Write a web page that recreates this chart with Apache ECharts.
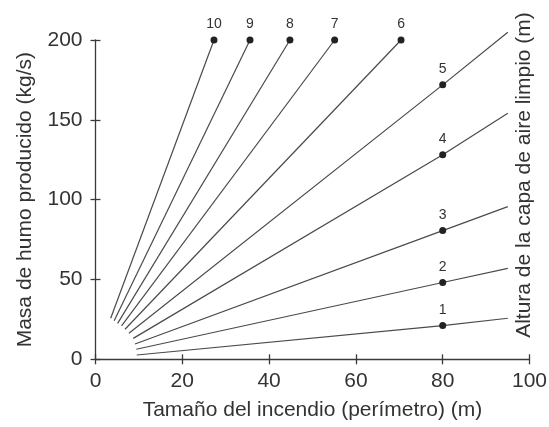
<!DOCTYPE html>
<html>
<head>
<meta charset="utf-8">
<script src="https://cdn.jsdelivr.net/npm/echarts@6/dist/echarts.min.js"></script>
<style>
  html, body { margin: 0; padding: 0; background: #fff; }
  #main { width: 549px; height: 427px; }
</style>
</head>
<body>
<div id="main"></div>
<script>
// curve labels 1..10 (clear-air layer height)
var lineNames = ['1', '2', '3', '4', '5', '6', '7', '8', '9', '10'];
// where each line starts (near the origin)
var startX = [9.5, 9.4, 9.1, 8.7, 7.7, 6.8, 6.0, 5.1, 4.3, 3.5];
var startY = [2.7, 6.3, 9.6, 13.1, 16.3, 18.8, 20.9, 22.5, 24.2, 25.7];
// marked points
var dotX = [80, 80, 80, 80, 80, 70.4, 55.1, 44.8, 35.6, 27.3];
var dotY = [21.1, 48.1, 80.6, 128.1, 171.9, 200, 200, 200, 200, 200];
// lines 1-5 carry on past the dot
var endX = [95, 95, 95, 95, 95];
var endY = [25.7, 57.0, 95.6, 154.1, 204.9];

var xTicks = [0, 20, 40, 60, 80, 100];
var yTicks = [0, 50, 100, 150, 200];

var font = 'Liberation Sans, Arial, Helvetica, sans-serif';
var axisColor = '#3a3a3a';
var textColor = '#333';

var chartDom = document.getElementById('main');
var myChart = echarts.init(chartDom);

var series = lineNames.map(function (name, i) {
  var data = [
    { value: [startX[i], startY[i]], symbol: 'none' },
    {
      value: [dotX[i], dotY[i]],
      symbol: 'circle',
      symbolSize: 7,
      label: {
        show: true,
        position: 'top',
        distance: 5,
        formatter: name,
        fontFamily: font,
        fontSize: 14,
        color: textColor
      }
    }
  ];
  if (i < endX.length) {
    data.push({ value: [endX[i], endY[i]], symbol: 'none' });
  }
  return {
    name: name,
    type: 'line',
    data: data,
    clip: false,
    silent: true,
    animation: false,
    lineStyle: { color: '#4a4a4a', width: 1.2 },
    itemStyle: { color: '#222' }
  };
});

var baseX = {
  type: 'value',
  min: xTicks[0],
  max: xTicks[xTicks.length - 1],
  interval: 20,
  position: 'bottom',
  splitLine: { show: false }
};
var baseY = {
  type: 'value',
  min: yTicks[0],
  max: yTicks[yTicks.length - 1],
  interval: 50,
  position: 'left',
  splitLine: { show: false }
};

var option = {
  backgroundColor: '#fff',
  grid: { left: 95.5, right: 19.5, top: 40, bottom: 67.7, outerBoundsMode: 'none' },
  xAxis: [
    Object.assign({}, baseX, {
      name: 'Tamaño del incendio (perímetro) (m)',
      nameLocation: 'middle',
      nameGap: 40,
      nameTextStyle: { fontFamily: font, fontSize: 21, color: textColor },
      axisLine: { lineStyle: { color: axisColor, width: 1.3 } },
      axisTick: { length: 5, lineStyle: { color: axisColor, width: 1.3 } },
      axisLabel: { fontFamily: font, fontSize: 21, color: textColor, margin: 11 }
    }),
    Object.assign({}, baseX, {
      axisLine: { show: false },
      axisTick: { inside: true, length: 5, lineStyle: { color: axisColor, width: 1.3 } },
      axisLabel: { show: false }
    })
  ],
  yAxis: [
    Object.assign({}, baseY, {
      name: 'Masa de humo producido (kg/s)',
      nameLocation: 'middle',
      nameGap: 60,
      nameTextStyle: { fontFamily: font, fontSize: 21, color: textColor },
      axisLine: { show: true, lineStyle: { color: axisColor, width: 1.3 } },
      axisTick: { show: true, length: 5, lineStyle: { color: axisColor, width: 1.3 } },
      axisLabel: { fontFamily: font, fontSize: 21, color: textColor, margin: 13 }
    }),
    Object.assign({}, baseY, {
      axisLine: { show: false },
      axisTick: { show: true, inside: true, length: 5, lineStyle: { color: axisColor, width: 1.3 } },
      axisLabel: { show: false }
    })
  ],
  graphic: [
    {
      type: 'text',
      x: 524,
      y: 175,
      rotation: Math.PI / 2,
      style: {
        text: 'Altura de la capa de aire limpio (m)',
        fontFamily: font,
        fontSize: 21,
        fill: textColor,
        align: 'center',
        verticalAlign: 'middle'
      }
    }
  ],
  series: series
};

option && myChart.setOption(option);
</script>
</body>
</html>
